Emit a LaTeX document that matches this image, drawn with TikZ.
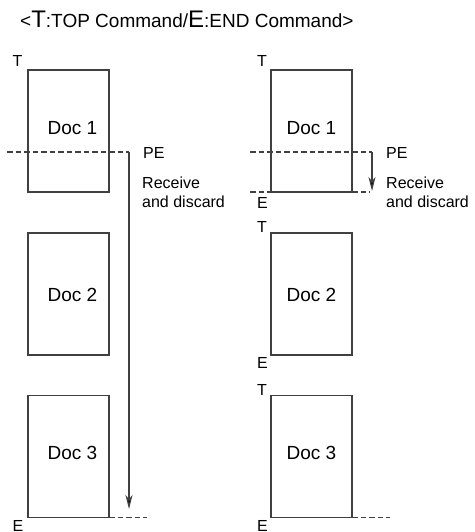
\documentclass[tikz,border=0pt]{standalone}
\usepackage{fontspec}
\setmainfont{Liberation Sans}
\usetikzlibrary{arrows.meta}
\definecolor{ln}{HTML}{404040}
\tikzset{
  docbox/.style={draw=ln, line width=1.2pt, minimum width=81pt, minimum height=122pt, inner sep=0pt, outer sep=0pt, anchor=north west},
  doctext/.style={anchor=base, inner sep=0pt, font=\fontsize{19}{22}\selectfont},
  lbl/.style={anchor=base west, inner sep=0pt, font=\fontsize{16}{19}\selectfont},
  dsh/.style={draw=ln, line width=1.2pt, dash pattern=on 5.5pt off 3pt},
  arr/.style={draw=ln, line width=1.2pt, -{Stealth[length=14pt, width=7pt, inset=4pt, fill=black]}}
}
\begin{document}
\begin{tikzpicture}[x=1pt, y=-1pt]
\useasboundingbox (0,0) rectangle (474,532);
% title
\node[anchor=base west, inner sep=0pt, font=\fontsize{19}{22}\selectfont] (title) at (20,28)
  {<{\fontsize{24}{26}\selectfont T}:TOP Command/{\fontsize{24}{26}\selectfont E}:END Command>};
% ---------- left column ----------
\coordinate (lda) at (7,152);
\coordinate (ldb) at (129,152);
\coordinate (lend) at (129,509);
\coordinate (lbe) at (147,517);
\draw[dsh] (lda) -- (ldb);
\draw[arr] (ldb) -- (lend);
\node[docbox] (l1) at (28,70) {};
\node[docbox] (l2) at (28,233) {};
\node[docbox] (l3) at (28,395.5) {};
\draw[dsh] (l3.south east) -- (l3.south east -| lbe);
\node[doctext] (l1t) at (72.5,134) {Doc 1};
\node[doctext] (l2t) at (72.5,301) {Doc 2};
\node[doctext] (l3t) at (72.5,459) {Doc 3};
\node[lbl] (lT) at (12.5,67) {T};
\node[lbl] (lE) at (12.5,531) {E};
\node[lbl] (lPE) at (143,158) {PE};
\node[lbl] (lR1) at (142,188) {Receive};
\node[lbl] (lR2) at (142,207) {and discard};
% ---------- right column ----------
\coordinate (rda) at (250,152);
\coordinate (rdb) at (372,152);
\coordinate (rend) at (372,191);
\coordinate (rea) at (250,192);
\coordinate (reb) at (370,192);
\coordinate (rbe) at (390,517);
\draw[dsh] (rda) -- (rdb);
\draw[dsh] (rea) -- (reb);
\draw[arr] (rdb) -- (rend);
\node[docbox] (r1) at (271,70) {};
\node[docbox] (r2) at (271,233) {};
\node[docbox] (r3) at (271,395.5) {};
\draw[dsh] (r3.south east) -- (r3.south east -| rbe);
\node[doctext] (r1t) at (311.5,134) {Doc 1};
\node[doctext] (r2t) at (311.5,301) {Doc 2};
\node[doctext] (r3t) at (311.5,459) {Doc 3};
\node[lbl] (rT1) at (257,67) {T};
\node[lbl] (rE1) at (257,208) {E};
\node[lbl] (rT2) at (257,232) {T};
\node[lbl] (rE2) at (257,368) {E};
\node[lbl] (rT3) at (257,395) {T};
\node[lbl] (rE3) at (257,531) {E};
\node[lbl] (rPE) at (386,158) {PE};
\node[lbl] (rR1) at (386,188) {Receive};
\node[lbl] (rR2) at (386,207) {and discard};
\end{tikzpicture}
\end{document}
